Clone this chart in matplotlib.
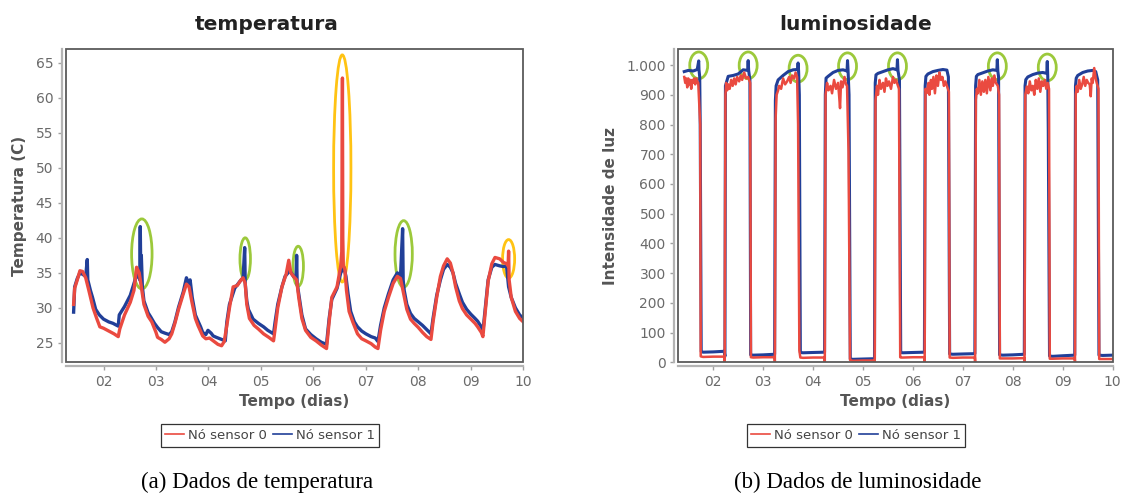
import matplotlib
matplotlib.use("Agg")
import matplotlib.pyplot as plt
from matplotlib.patches import Ellipse, Rectangle
from matplotlib.lines import Line2D

# ---- temperature, node 1 (blue) ----
temp_day_1 = [1.43, 1.45, 1.50, 1.55, 1.60, 1.66, 1.69, 1.70, 1.75, 1.79, 1.85, 1.92, 2.00, 2.10,
              2.18, 2.28, 2.30, 2.40, 2.51, 2.61, 2.66, 2.69, 2.70, 2.71, 2.72, 2.74, 2.77, 2.85,
              2.90, 2.97, 3.03, 3.10, 3.17, 3.25, 3.30, 3.36, 3.43, 3.52, 3.58, 3.62, 3.65, 3.69,
              3.75, 3.79, 3.85, 3.89, 3.95, 3.99, 4.05, 4.09, 4.15, 4.22, 4.32, 4.35, 4.40, 4.50,
              4.60, 4.66, 4.69, 4.70, 4.73, 4.76, 4.85, 4.95, 5.05, 5.13, 5.24, 5.27, 5.32, 5.40,
              5.46, 5.55, 5.62, 5.67, 5.68, 5.69, 5.72, 5.78, 5.85, 5.95, 6.05, 6.15, 6.25, 6.30,
              6.35, 6.45, 6.52, 6.58, 6.62, 6.66, 6.71, 6.78, 6.84, 6.92, 7.00, 7.10, 7.18, 7.23,
              7.28, 7.35, 7.43, 7.52, 7.60, 7.66, 7.70, 7.71, 7.73, 7.78, 7.85, 7.92, 8.00, 8.08,
              8.16, 8.24, 8.28, 8.35, 8.42, 8.48, 8.55, 8.61, 8.66, 8.71, 8.78, 8.84, 8.92, 9.00,
              9.08, 9.13, 9.20, 9.23, 9.27, 9.33, 9.40, 9.46, 9.55, 9.62, 9.68, 9.72, 9.77, 9.85,
              9.93, 10.00]
temp_val_1 = [29.4, 33.0, 34.2, 35.0, 34.8, 34.5, 36.9, 34.0, 32.5, 31.5, 29.8, 29.0, 28.4, 28.0,
              27.8, 27.4, 29.0, 30.2, 31.8, 34.2, 34.8, 34.0, 41.6, 34.5, 37.5, 33.0, 31.0, 29.3,
              28.7, 27.8, 27.2, 26.6, 26.4, 26.2, 26.6, 28.0, 30.1, 32.3, 34.3, 33.5, 34.0, 31.5,
              29.0, 28.3, 27.3, 26.5, 26.2, 26.8, 26.4, 26.0, 25.8, 25.6, 25.3, 28.0, 30.5, 32.8,
              33.8, 34.3, 38.6, 33.5, 31.0, 29.8, 28.4, 27.8, 27.3, 26.8, 26.3, 28.0, 30.5, 33.0,
              34.5, 35.3, 34.5, 34.2, 37.5, 33.5, 32.0, 29.0, 27.0, 26.2, 25.6, 25.1, 24.8, 28.5,
              31.2, 32.8, 35.0, 35.8, 34.5, 32.0, 29.5, 28.0, 27.3, 26.7, 26.3, 25.9, 25.7, 25.2,
              27.5, 30.0, 32.0, 34.0, 35.0, 34.5, 41.3, 34.0, 32.5, 30.5, 29.2, 28.5, 28.0, 27.5,
              26.9, 26.3, 28.5, 31.8, 34.0, 35.5, 36.2, 35.8, 35.0, 33.5, 32.0, 30.8, 29.8, 29.1,
              28.5, 28.1, 27.3, 26.6, 29.5, 34.0, 35.8, 36.2, 36.0, 35.9, 36.0, 33.0, 31.5, 30.0,
              29.0, 28.5]

# ---- temperature, node 0 (red) ----
temp_day_0 = [1.43, 1.45, 1.50, 1.55, 1.60, 1.66, 1.72, 1.80, 1.87, 1.93, 2.00, 2.10, 2.20, 2.28,
              2.31, 2.40, 2.51, 2.58, 2.63, 2.68, 2.72, 2.77, 2.85, 2.92, 3.00, 3.03, 3.10, 3.17,
              3.25, 3.30, 3.36, 3.43, 3.52, 3.58, 3.63, 3.68, 3.75, 3.80, 3.89, 3.95, 4.02, 4.09,
              4.18, 4.25, 4.30, 4.35, 4.40, 4.47, 4.55, 4.62, 4.66, 4.70, 4.73, 4.78, 4.87, 4.95,
              5.05, 5.15, 5.24, 5.27, 5.32, 5.40, 5.48, 5.53, 5.57, 5.62, 5.68, 5.72, 5.78, 5.85,
              5.95, 6.05, 6.15, 6.25, 6.30, 6.35, 6.45, 6.52, 6.54, 6.553, 6.56, 6.57, 6.60, 6.63,
              6.68, 6.75, 6.84, 6.92, 7.00, 7.10, 7.18, 7.23, 7.28, 7.35, 7.43, 7.52, 7.60, 7.66,
              7.72, 7.78, 7.85, 7.92, 8.00, 8.08, 8.16, 8.24, 8.28, 8.35, 8.42, 8.48, 8.55, 8.61,
              8.66, 8.71, 8.78, 8.84, 8.92, 9.00, 9.08, 9.13, 9.20, 9.23, 9.27, 9.33, 9.40, 9.46,
              9.55, 9.62, 9.68, 9.71, 9.72, 9.73, 9.77, 9.85, 9.93, 10.00]
temp_val_0 = [30.5, 32.8, 34.0, 35.3, 35.2, 34.3, 32.5, 30.0, 28.5, 27.3, 27.1, 26.7, 26.3, 25.9,
              27.0, 29.0, 30.8, 32.5, 35.8, 35.0, 33.0, 30.5, 28.8, 28.0, 26.5, 25.8, 25.5, 25.1,
              25.6, 26.3, 27.8, 29.8, 32.0, 33.4, 33.0, 31.0, 28.5, 27.5, 26.0, 25.6, 25.7, 25.3,
              24.8, 24.6, 25.2, 27.5, 30.0, 33.0, 33.2, 34.0, 34.3, 33.5, 30.5, 28.5, 27.5, 27.0,
              26.3, 25.8, 25.3, 27.0, 30.0, 33.0, 34.8, 36.8, 35.0, 34.5, 34.0, 31.5, 28.5, 26.8,
              25.8, 25.3, 24.7, 24.2, 28.0, 31.5, 33.0, 36.0, 38.0, 62.8, 40.0, 36.0, 35.5, 32.5,
              29.5, 28.0, 26.3, 25.6, 25.3, 24.9, 24.4, 24.2, 26.8, 29.5, 31.5, 33.5, 34.5, 34.2,
              32.0, 29.8, 28.4, 27.8, 27.2, 26.5, 25.9, 25.5, 28.0, 31.5, 34.5, 36.0, 37.0, 36.4,
              35.0, 33.0, 31.0, 29.9, 29.0, 28.4, 27.8, 27.3, 26.5, 25.9, 29.0, 33.8, 36.3, 37.2,
              37.0, 36.5, 36.3, 36.0, 38.1, 34.0, 31.5, 29.5, 28.5, 28.0]

# ---- luminosity, node 1 (blue) ----
lum_day_1 = [1.42, 1.50, 1.60, 1.68, 1.71, 1.715, 1.73, 1.74, 1.76, 1.80, 2.00, 2.22, 2.235,
             2.245, 2.30, 2.40, 2.50, 2.60, 2.69, 2.70, 2.71, 2.735, 2.75, 2.80, 3.00, 3.23,
             3.245, 3.26, 3.30, 3.40, 3.50, 3.60, 3.69, 3.70, 3.71, 3.725, 3.745, 3.80, 4.00,
             4.23, 4.245, 4.26, 4.30, 4.40, 4.50, 4.60, 4.68, 4.69, 4.70, 4.72, 4.745, 4.80,
             5.00, 5.23, 5.245, 5.26, 5.30, 5.40, 5.50, 5.60, 5.68, 5.69, 5.70, 5.73, 5.755,
             5.80, 6.00, 6.23, 6.245, 6.26, 6.30, 6.40, 6.50, 6.60, 6.68, 6.71, 6.735, 6.80,
             7.00, 7.24, 7.255, 7.27, 7.30, 7.40, 7.50, 7.60, 7.68, 7.69, 7.70, 7.715, 7.735,
             7.80, 8.00, 8.23, 8.245, 8.26, 8.30, 8.40, 8.50, 8.60, 8.68, 8.69, 8.70, 8.71,
             8.735, 8.80, 9.00, 9.24, 9.255, 9.27, 9.30, 9.40, 9.50, 9.60, 9.66, 9.70, 9.725,
             9.80, 10.00]
lum_val_1 = [978, 982, 980, 985, 1014, 985, 960, 800, 36, 34, 35, 37, 20,
             930, 962, 965, 970, 984, 982, 1015, 982, 950, 25, 24, 25, 27,
             880, 930, 950, 965, 978, 984, 985, 1007, 980, 900, 33, 32, 33,
             34, 900, 956, 962, 975, 982, 984, 980, 1015, 984, 900, 11, 10,
             11, 12, 940, 967, 972, 978, 984, 988, 984, 1018, 982, 950, 33,
             32, 33, 34, 930, 962, 970, 978, 982, 985, 983, 960, 28, 27,
             28, 29, 930, 962, 968, 974, 980, 984, 982, 1018, 980, 960, 25,
             24, 25, 27, 930, 951, 960, 968, 973, 975, 972, 1012, 960, 780,
             21, 20, 22, 24, 930, 956, 965, 975, 980, 982, 978, 950, 24,
             23, 24]

# ---- luminosity, node 0 (red) ----
lum_day_0 = [1.42, 1.44, 1.46, 1.48, 1.50, 1.52, 1.54, 1.56, 1.58, 1.60, 1.62, 1.64, 1.66, 1.68,
             1.70, 1.74, 1.75, 1.77, 1.80, 2.00, 2.22,
             2.23, 2.245, 2.26, 2.28, 2.30, 2.33, 2.36, 2.39, 2.42, 2.45, 2.48, 2.52, 2.55, 2.58,
             2.62, 2.66, 2.70, 2.74, 2.755, 2.80, 3.00, 3.23,
             3.235, 3.25, 3.27, 3.30, 3.32, 3.36, 3.40, 3.44, 3.48, 3.52, 3.55, 3.58, 3.62, 3.65,
             3.68, 3.70, 3.725, 3.745, 3.80, 4.00, 4.23,
             4.235, 4.25, 4.28, 4.31, 4.35, 4.38, 4.42, 4.46, 4.50, 4.52, 4.54, 4.56, 4.59, 4.63,
             4.66, 4.68, 4.71, 4.74, 4.755, 4.80, 5.00, 5.23,
             5.235, 5.25, 5.28, 5.30, 5.33, 5.36, 5.40, 5.43, 5.46, 5.49, 5.52, 5.56, 5.60, 5.63,
             5.66, 5.69, 5.72, 5.745, 5.76, 5.80, 6.00, 6.23,
             6.235, 6.25, 6.28, 6.31, 6.33, 6.36, 6.38, 6.41, 6.44, 6.47, 6.50, 6.53, 6.56, 6.59,
             6.62, 6.65, 6.68, 6.72, 6.735, 6.80, 7.00, 7.24,
             7.245, 7.26, 7.28, 7.30, 7.33, 7.36, 7.39, 7.42, 7.45, 7.48, 7.51, 7.55, 7.58, 7.60,
             7.63, 7.66, 7.70, 7.725, 7.74, 7.80, 8.00, 8.23,
             8.235, 8.25, 8.28, 8.31, 8.34, 8.37, 8.40, 8.43, 8.46, 8.49, 8.52, 8.55, 8.58, 8.61,
             8.64, 8.67, 8.70, 8.725, 8.74, 8.80, 9.00, 9.24,
             9.245, 9.26, 9.28, 9.30, 9.33, 9.36, 9.39, 9.42, 9.45, 9.48, 9.51, 9.54, 9.56, 9.58,
             9.60, 9.63, 9.66, 9.68, 9.715, 9.73, 9.80, 10.00]
lum_val_0 = [960, 940, 955, 925, 955, 935, 950, 920, 950, 940, 955, 935, 955, 945,
             940, 800, 20, 19, 18, 19, 19,
             0, 900, 940, 915, 935, 920, 950, 930, 955, 935, 960, 945, 965, 950,
             975, 955, 960, 940, 17, 16, 17, 17,
             0, 820, 900, 915, 930, 920, 955, 935, 945, 960, 940, 965, 955, 975,
             960, 800, 40, 16, 15, 16, 16,
             0, 900, 940, 915, 930, 905, 950, 920, 940, 900, 855, 945, 925, 960,
             935, 930, 709, 8, 6, 5, 6, 6,
             0, 880, 930, 900, 950, 920, 940, 910, 955, 930, 945, 920, 960, 940,
             950, 935, 920, 17, 16, 16, 17, 17,
             0, 920, 906, 940, 900, 950, 920, 960, 905, 965, 930, 975, 950, 960,
             930, 945, 930, 910, 16, 15, 16, 16,
             0, 883, 920, 905, 950, 900, 945, 910, 950, 905, 960, 915, 955, 930,
             965, 940, 930, 900, 13, 13, 13, 14,
             0, 900, 928, 905, 945, 915, 930, 900, 950, 920, 955, 910, 945, 930,
             950, 920, 940, 920, 12, 12, 13, 13,
             0, 900, 930, 910, 950, 920, 935, 960, 930, 950, 940, 935, 895, 955,
             940, 990, 955, 940, 920, 11, 11, 11]

# highlighted spikes (centre day, centre value, width in days, height)
temp_green = [(2.73, 37.7, 0.39, 10.0), (4.70, 37.0, 0.20, 6.0),
              (5.71, 35.95, 0.20, 5.7), (7.72, 37.7, 0.33, 9.5)]
temp_yellow = [(6.55, 49.9, 0.33, 32.4), (9.72, 37.0, 0.23, 5.5)]
lum_green = [(1.71, 999, 0.36, 90), (2.70, 999, 0.36, 90), (3.70, 988, 0.36, 90),
             (4.69, 996, 0.36, 90), (5.69, 996, 0.36, 90), (7.69, 996, 0.36, 90),
             (8.69, 992, 0.36, 90)]

day_ticks = [2, 3, 4, 5, 6, 7, 8, 9, 10]
day_labels = ["02", "03", "04", "05", "06", "07", "08", "09", "10"]
temp_ticks = [25, 30, 35, 40, 45, 50, 55, 60, 65]
lum_ticks = [0, 100, 200, 300, 400, 500, 600, 700, 800, 900, 1000]
lum_labels = ["0", "100", "200", "300", "400", "500", "600", "700", "800", "900", "1.000"]

RED = "#ea4a40"
BLUE = "#213f98"
GREEN = "#9cc93b"
YELLOW = "#ffc313"

fig = plt.figure(figsize=(11.22, 4.95), dpi=100)
ax1 = fig.add_axes([0.0586, 0.2681, 0.4078, 0.6323])
ax2 = fig.add_axes([0.6045, 0.2681, 0.3872, 0.6323])


def style(ax):
    for s in ["top", "right"]:
        ax.spines[s].set_visible(False)
    for s in ["left", "bottom"]:
        ax.spines[s].set_position(("outward", 3))
        ax.spines[s].set_color("#b4b4b4")
        ax.spines[s].set_linewidth(1.6)
    ax.add_patch(Rectangle((0, 0), 1, 1, transform=ax.transAxes, fill=False,
                           ec="#5a5a5a", lw=1.3, clip_on=False, zorder=5))
    ax.tick_params(length=3, width=1, color="#a0a0a0", labelcolor="#6a6a6a",
                   labelsize=10, pad=3)


ax1.plot(temp_day_1, temp_val_1, color=BLUE, lw=2.4)
ax1.plot(temp_day_0, temp_val_0, color=RED, lw=2.4)
for cx, cy, w, h in temp_green:
    ax1.add_patch(Ellipse((cx, cy), w, h, fill=False, ec=GREEN, lw=2))
for cx, cy, w, h in temp_yellow:
    ax1.add_patch(Ellipse((cx, cy), w, h, fill=False, ec=YELLOW, lw=2))
ax1.set_xlim(1.28, 10.0)
ax1.set_ylim(22.24, 66.9)
ax1.set_xticks(day_ticks)
ax1.set_xticklabels(day_labels)
ax1.set_yticks(temp_ticks)
style(ax1)
ax1.set_xlabel("Tempo (dias)", fontsize=11, fontweight="bold", color="#555555", labelpad=4)
ax1.set_ylabel("Temperatura (C)", fontsize=11, fontweight="bold", color="#555555", labelpad=6)

ax2.plot(lum_day_1, lum_val_1, color=BLUE, lw=2.2)
ax2.plot(lum_day_0, lum_val_0, color=RED, lw=1.8)
for cx, cy, w, h in lum_green:
    ax2.add_patch(Ellipse((cx, cy), w, h, fill=False, ec=GREEN, lw=2))
ax2.set_xlim(1.30, 10.0)
ax2.set_ylim(0, 1053)
ax2.set_xticks(day_ticks)
ax2.set_xticklabels(day_labels)
ax2.set_yticks(lum_ticks)
ax2.set_yticklabels(lum_labels)
style(ax2)
ax2.set_xlabel("Tempo (dias)", fontsize=11, fontweight="bold", color="#555555", labelpad=4)
ax2.set_ylabel("Intensidade de luz", fontsize=11, fontweight="bold", color="#555555", labelpad=6)

fig.text(267 / 1122, 1 - 25 / 495, "temperatura", ha="center", va="center",
         fontsize=14.5, fontweight="bold", color="#222222")
fig.text(856 / 1122, 1 - 25 / 495, "luminosidade", ha="center", va="center",
         fontsize=14.5, fontweight="bold", color="#222222")

handles = [Line2D([], [], color=RED, lw=1.2), Line2D([], [], color=BLUE, lw=1.2)]
names = ["Nó sensor 0", "Nó sensor 1"]
for cx in [270, 856]:
    leg = fig.legend(handles, names, loc="center", bbox_to_anchor=(cx / 1122, 1 - 435.5 / 495),
                     ncol=2, fontsize=9.5, frameon=True, fancybox=False, handlelength=1.4,
                     handletextpad=0.3, columnspacing=0.5, borderpad=0.35, labelcolor="#444444")
    leg.get_frame().set_edgecolor("black")
    leg.get_frame().set_linewidth(0.9)

fig.text(257 / 1122, 1 - 482 / 495, "(a) Dados de temperatura", ha="center", va="center",
         fontsize=16.5, family="Liberation Serif")
fig.text(858 / 1122, 1 - 482 / 495, "(b) Dados de luminosidade", ha="center", va="center",
         fontsize=16.5, family="Liberation Serif")

fig.savefig("out.png", dpi=100)
